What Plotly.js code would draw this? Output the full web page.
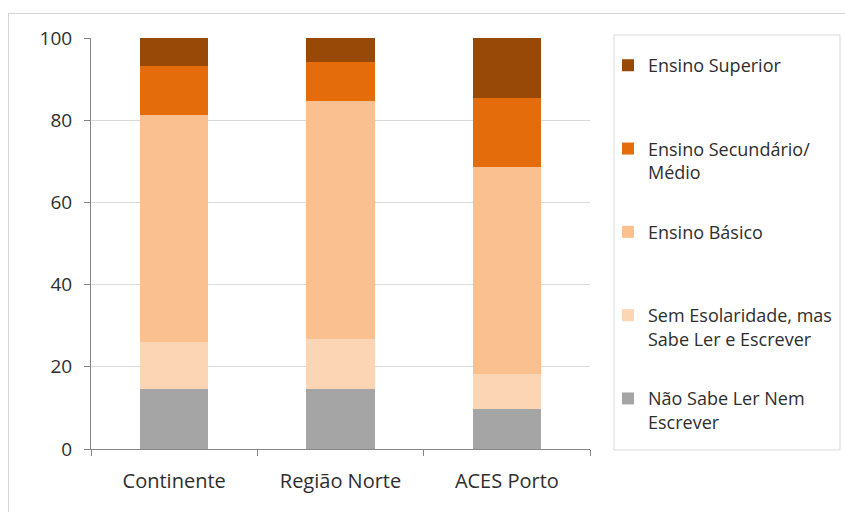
<!DOCTYPE html>
<html>
<head>
<meta charset="utf-8">
<script src="https://cdn.plot.ly/plotly-3.0.1.min.js"></script>
<style>
  html, body { margin: 0; padding: 0; background: #ffffff; }
  #chart { width: 845px; height: 512px; position: relative; }
  #frame { position: absolute; left: 8px; top: 13px; width: 900px; height: 600px;
           border: 1px solid #d4d4d4; pointer-events: none; z-index: 10; }
</style>
</head>
<body>
<div id="frame"></div>
<div id="chart"></div>
<script>
const categories = ["Continente", "Região Norte", "ACES Porto"];
const seriesNames = [
  "Não Sabe Ler Nem<br>Escrever",
  "Sem Esolaridade, mas<br>Sabe Ler e Escrever",
  "Ensino Básico<br>\u00a0",
  "Ensino Secundário/<br>Médio",
  "Ensino Superior<br>\u00a0"
];
const naoSabe     = [14.6, 14.6, 9.7];
const semEscolar  = [11.4, 12.1, 8.5];
const basico      = [55.3, 58.0, 50.5];
const secundario  = [11.9, 9.5, 16.8];
const superior    = [6.8, 5.8, 14.5];
const seriesValues = [naoSabe, semEscolar, basico, secundario, superior];
const colors = ["#a5a5a5", "#fcd5b5", "#fac090", "#e46c0a", "#984807"];

const traces = seriesValues.map((vals, i) => ({
  type: "bar",
  name: seriesNames[i],
  x: categories,
  y: vals,
  marker: { color: colors[i], line: { width: 0 } },
  legendgroup: "g" + i,
  legendrank: seriesValues.length - i,
  hoverinfo: "x+y+name"
}));

const textColor = "#2e2e2e";
const layout = {
  width: 845,
  height: 512,
  margin: { l: 91, r: 255, t: 38, b: 63, autoexpand: false },
  barmode: "stack",
  bargap: 0.59,
  paper_bgcolor: "#ffffff",
  plot_bgcolor: "#ffffff",
  font: { family: "Open Sans, sans-serif", color: textColor, size: 18 },
  xaxis: {
    type: "category",
    showgrid: false,
    showline: true,
    linecolor: "#868686",
    linewidth: 1,
    ticks: "outside",
    tickson: "boundaries",
    ticklen: 6,
    tickcolor: "#868686",
    tickfont: { size: 20, color: textColor },
    ticklabelstandoff: 14
  },
  yaxis: {
    range: [0, 100],
    tickvals: [0, 20, 40, 60, 80, 100],
    showgrid: true,
    gridcolor: "#d9d9d9",
    gridwidth: 1,
    zeroline: false,
    showline: true,
    linecolor: "#868686",
    linewidth: 1,
    ticks: "outside",
    ticklen: 6,
    tickcolor: "#868686",
    tickfont: { size: 19, color: textColor },
    ticklabelstandoff: 8
  },
  legend: {
    traceorder: "grouped",
    tracegroupgap: 33.5,
    x: (608 - 91) / 499,
    xanchor: "left",
    y: 0.978,
    yanchor: "top",
    borderwidth: 0,
    bgcolor: "rgba(0,0,0,0)",
    valign: "top",
    maxheight: 470,
    font: { size: 18, color: textColor }
  },
  shapes: [{
    type: "rect",
    xref: "paper", yref: "paper",
    x0: (614 - 91) / 499, x1: (840 - 91) / 499,
    y0: (449 - 450) / 411, y1: (449 - 35) / 411,
    line: { color: "#d9d9d9", width: 1 },
    fillcolor: "rgba(0,0,0,0)",
    layer: "below"
  }],
  showlegend: true
};

Plotly.newPlot("chart", traces, layout, { displayModeBar: false, staticPlot: true });
</script>
</body>
</html>
